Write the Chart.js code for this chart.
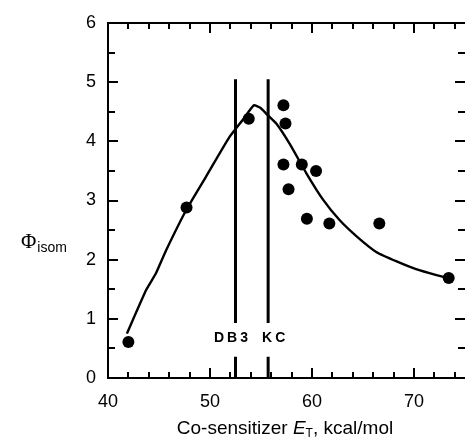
<!DOCTYPE html>
<html>
<head>
<meta charset="utf-8">
<script src="https://cdn.jsdelivr.net/npm/chart.js@4.4.1/dist/chart.umd.min.js"></script>
<style>
  html, body { margin: 0; padding: 0; background: #fff; }
  canvas { display: block; }
</style>
</head>
<body>
<canvas id="c" width="465" height="438" style="width:465px;height:438px"></canvas>
<script>
// ---- data ----
const xTickLabels = [40, 50, 60, 70];
const yTickLabels = [0, 1, 2, 3, 4, 5, 6];
const measX = [42.0, 47.7, 53.8, 57.2, 57.4, 57.2, 59.0, 60.4, 57.7, 59.5, 61.7, 66.6, 73.4];
const measY = [0.61, 2.88, 4.38, 4.61, 4.30, 3.61, 3.61, 3.50, 3.19, 2.69, 2.61, 2.61, 1.69];
const fitX = [41.85, 43.75, 44.7, 45.7, 47.67, 49.6, 51.9, 53.2, 54.3, 54.9, 55.5, 56.5, 57.8, 59.45, 61.1, 62.7, 64.4, 66.3, 68.3, 70.2, 72.2, 73.4];
const fitY = [0.75, 1.49, 1.77, 2.16, 2.84, 3.40, 4.07, 4.36, 4.61, 4.57, 4.47, 4.30, 3.96, 3.46, 3.01, 2.67, 2.39, 2.13, 1.97, 1.84, 1.74, 1.69];
const markerX = [52.5, 55.7];
const markerLabels = ['DB3', 'KC'];
const markerLowY = [0, 0.36];
const markerHighY = [0.93, 5.05];
const markerLabelY = 0.68;

function toPts(xs, ys) { return xs.map((x, i) => ({ x: x, y: ys[i] })); }
function markerPts(x) {
  return [{ x: x, y: markerLowY[0] }, { x: x, y: markerLowY[1] }, { x: x, y: null },
          { x: x, y: markerHighY[0] }, { x: x, y: markerHighY[1] }];
}

const FONT = '"Liberation Sans", Arial, Helvetica, sans-serif';

const framePlugin = {
  id: 'frame',
  afterDraw(chart) {
    const ctx = chart.ctx;
    const a = chart.chartArea;
    const xs = chart.scales.x, ys = chart.scales.y;
    ctx.save();
    ctx.strokeStyle = '#000';
    ctx.lineWidth = 2;
    ctx.beginPath();
    ctx.moveTo(a.right + 2, a.top);
    ctx.lineTo(a.left, a.top);
    ctx.lineTo(a.left, a.bottom);
    ctx.lineTo(a.right + 2, a.bottom);
    ctx.moveTo(a.right + 2, a.top);
    ctx.lineTo(a.right + 2, a.bottom);
    ctx.stroke();
    // x ticks (top and bottom), inward
    ctx.beginPath();
    for (let v = 40; v <= 75; v += 2) {
      const px = Math.round(xs.getPixelForValue(v));
      const len = (v % 10 === 0) ? 10 : 6;
      ctx.moveTo(px, a.bottom); ctx.lineTo(px, a.bottom - len);
      ctx.moveTo(px, a.top); ctx.lineTo(px, a.top + len);
    }
    for (let v = 0; v <= 6.001; v += 0.5) {
      const py = Math.round(ys.getPixelForValue(v));
      const len = (Math.abs(v - Math.round(v)) < 1e-6) ? 10 : 7;
      ctx.moveTo(a.left, py); ctx.lineTo(a.left + len, py);
      ctx.moveTo(a.right + 2, py); ctx.lineTo(a.right - len, py);
    }
    ctx.stroke();

    // marker labels
    ctx.fillStyle = '#000';
    ctx.font = 'bold 14px ' + FONT;
    ctx.textBaseline = 'middle';
    ctx.textAlign = 'center';
    try { ctx.letterSpacing = '3px'; } catch (e) {}
    const ly = ys.getPixelForValue(markerLabelY);
    const p0 = xs.getPixelForValue(markerX[0]);
    const p1 = xs.getPixelForValue(markerX[1]);
    ctx.fillText(markerLabels[0], p0 - 3, ly);
    ctx.fillText(markerLabels[1], p1 + 7, ly);
    try { ctx.letterSpacing = '0px'; } catch (e) {}

    // x axis title
    ctx.textAlign = 'left';
    ctx.textBaseline = 'alphabetic';
    const base = 434;
    const f = '19px ' + FONT, fi = 'italic 19px ' + FONT, fs = '12px ' + FONT;
    const parts = [['Co-sensitizer ', f, 0], ['E', fi, 0], ['T', fs, 3], [', kcal/mol', f, 0]];
    let w = 0;
    parts.forEach(p => { ctx.font = p[1]; w += ctx.measureText(p[0]).width; });
    let cx = 285 - w / 2;
    parts.forEach(p => { ctx.font = p[1]; ctx.fillText(p[0], cx, base + p[2]); cx += ctx.measureText(p[0]).width; });

    // y axis title
    ctx.font = '21px "Liberation Serif", "Times New Roman", serif';
    ctx.fillText('\u03A6', 21, 248);
    const phw = ctx.measureText('\u03A6').width;
    ctx.font = '14px ' + FONT;
    ctx.fillText('isom', 21 + phw + 1, 252);
    ctx.restore();
  }
};

new Chart(document.getElementById('c'), {
  type: 'scatter',
  data: {
    datasets: [
      { data: toPts(fitX, fitY), showLine: true, borderColor: '#000', borderWidth: 2.4, pointRadius: 0, tension: 0.15, fill: false },
      { data: toPts(measX, measY), showLine: false, pointRadius: 6, pointBackgroundColor: '#000', pointBorderWidth: 0, borderColor: '#000' },
      { data: markerPts(markerX[0]), showLine: true, spanGaps: false, borderColor: '#000', borderWidth: 3, pointRadius: 0 },
      { data: markerPts(markerX[1]), showLine: true, spanGaps: false, borderColor: '#000', borderWidth: 3, pointRadius: 0 }
    ]
  },
  options: {
    responsive: false,
    animation: false,
    devicePixelRatio: 1,
    events: [],
    layout: { padding: { top: 23, right: 0, left: 0, bottom: 0 }, autoPadding: false },
    plugins: { legend: { display: false }, tooltip: { enabled: false }, title: { display: false } },
    scales: {
      x: {
        type: 'linear', min: 40, max: 75,
        afterBuildTicks: s => { s.ticks = xTickLabels.map(v => ({ value: v })); },
        afterFit: s => { s.height = 60; },
        grid: { display: false, drawTicks: false },
        border: { display: false },
        ticks: { color: '#000', font: { family: FONT, size: 18 }, padding: 13, maxRotation: 0 }
      },
      y: {
        type: 'linear', min: 0, max: 6,
        afterBuildTicks: s => { s.ticks = yTickLabels.map(v => ({ value: v })); },
        afterFit: s => { s.width = 108; },
        grid: { display: false, drawTicks: false },
        border: { display: false },
        ticks: { color: '#000', font: { family: FONT, size: 18 }, padding: 12 }
      }
    }
  },
  plugins: [framePlugin]
});
</script>
</body>
</html>
